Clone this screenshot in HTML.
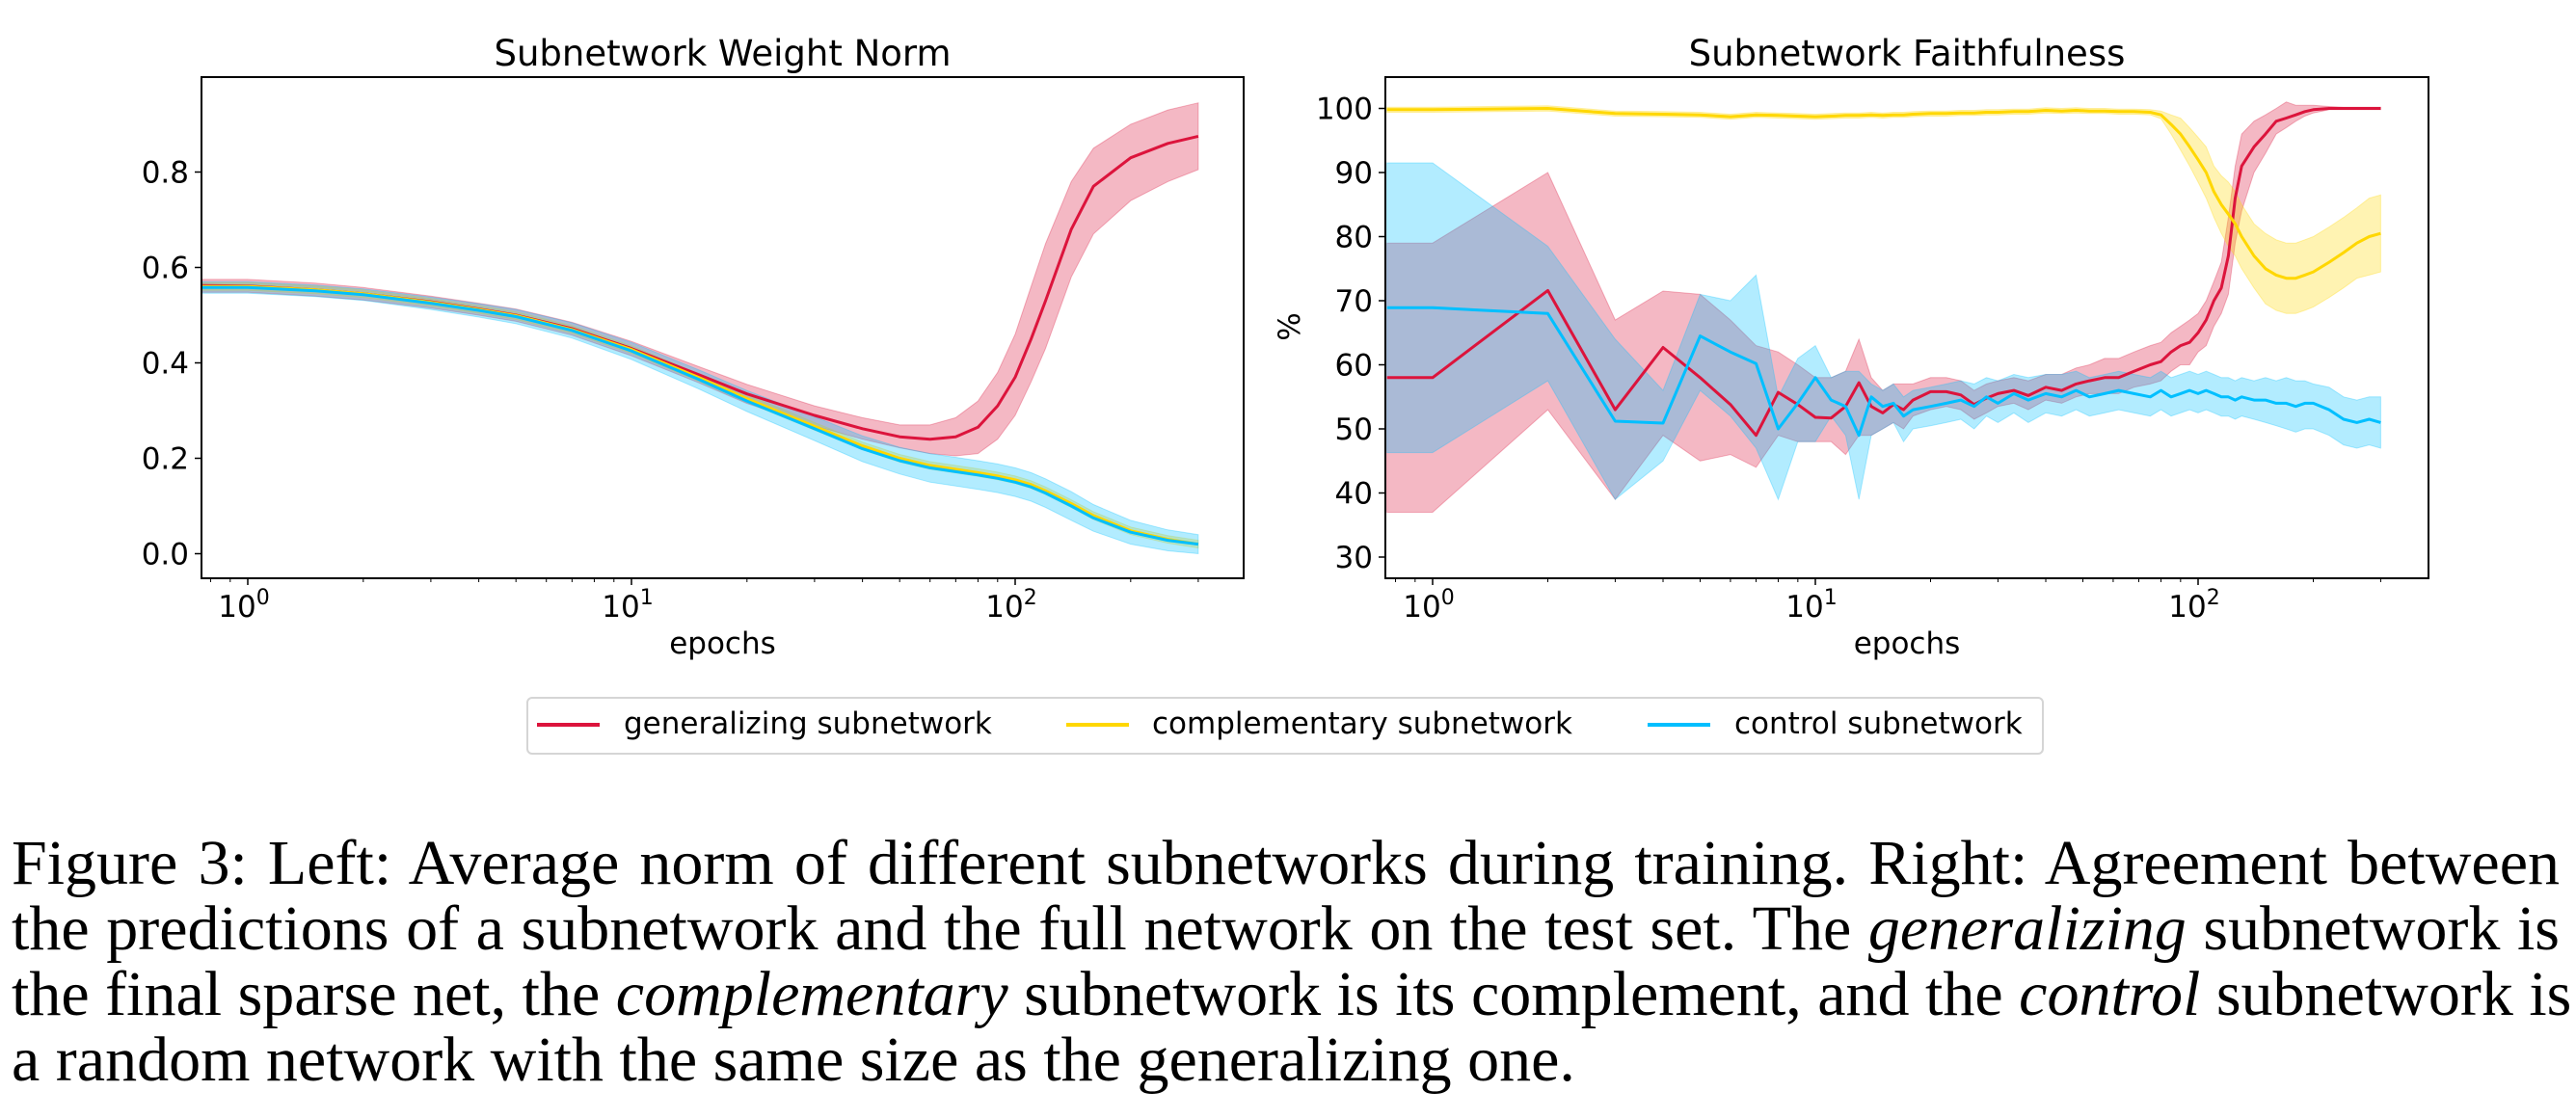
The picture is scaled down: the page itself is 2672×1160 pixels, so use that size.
<!DOCTYPE html>
<html><head><meta charset="utf-8"><style>
html,body{margin:0;padding:0;background:#fff;width:2672px;height:1160px;overflow:hidden}
svg{position:absolute;left:0;top:0}
.cap{position:absolute;left:12px;width:2643px;font-family:"Liberation Serif",serif;font-size:66px;line-height:68px;white-space:nowrap;color:#000}
.j{text-align:justify;text-align-last:justify}
</style></head><body>
<svg id="fig" width="2672" height="720" viewBox="0 0 2672 720" font-family="DejaVu Sans, Liberation Sans, sans-serif"></svg>
<div style="position:absolute;left:546px;top:723px;width:1570px;height:56px;border:2px solid #d5d5d5;border-radius:6px;font-family:'DejaVu Sans','Liberation Sans',sans-serif;font-size:31px;">
 <div><div style="position:absolute;left:9px;top:25px;width:65px;height:4px;background:#dc143c"></div><span style="position:absolute;left:99px;top:8px">generalizing subnetwork</span></div>
 <div><div style="position:absolute;left:558px;top:25px;width:65px;height:4px;background:#ffd700"></div><span style="position:absolute;left:647px;top:8px">complementary subnetwork</span></div>
 <div><div style="position:absolute;left:1161px;top:25px;width:65px;height:4px;background:#00bfff"></div><span style="position:absolute;left:1251px;top:8px">control subnetwork</span></div>
</div>
<div>
<div class="cap j" style="top:862px">Figure 3: Left: Average norm of different subnetworks during training. Right: Agreement between</div>
<div class="cap j" style="top:930px">the predictions of a subnetwork and the full network on the test set. The <i>generalizing</i> subnetwork is</div>
<div class="cap j" style="top:998px">the final sparse net, the <i>complementary</i> subnetwork is its complement, and the <i>control</i> subnetwork is</div>
<div class="cap" style="top:1066px">a random network with the same size as the generalizing one.</div>
</div>
<script>
// ---- Left chart data (Subnetwork Weight Norm) ----
const leftEpochs = [0.76,1,1.5,2,3,4,5,7,10,15,20,30,40,50,60,70,80,90,100,110,120,140,160,200,250,300];
const leftRedMean = [0.562,0.561,0.553,0.545,0.528,0.513,0.5,0.472,0.43,0.375,0.335,0.29,0.262,0.245,0.24,0.245,0.265,0.31,0.37,0.45,0.53,0.68,0.77,0.83,0.86,0.875];
const leftRedUpper = [0.575,0.575,0.567,0.558,0.54,0.525,0.513,0.485,0.445,0.392,0.355,0.31,0.285,0.27,0.27,0.285,0.32,0.38,0.46,0.56,0.65,0.78,0.85,0.9,0.93,0.945];
const leftRedLower = [0.548,0.548,0.54,0.532,0.515,0.5,0.487,0.458,0.415,0.358,0.315,0.268,0.24,0.222,0.21,0.205,0.21,0.24,0.29,0.36,0.43,0.58,0.67,0.74,0.78,0.805];
const leftYellowMean = [0.56,0.56,0.553,0.545,0.527,0.512,0.499,0.47,0.428,0.369,0.325,0.267,0.226,0.2,0.185,0.177,0.17,0.163,0.155,0.145,0.132,0.105,0.08,0.048,0.03,0.02];
const leftYellowSpread = [0.008,0.008,0.008,0.008,0.008,0.008,0.008,0.008,0.008,0.008,0.008,0.008,0.008,0.008,0.008,0.008,0.008,0.008,0.008,0.008,0.008,0.008,0.008,0.008,0.008,0.008];
const leftBlueMean = [0.558,0.558,0.551,0.543,0.525,0.51,0.497,0.468,0.425,0.365,0.32,0.262,0.22,0.195,0.18,0.172,0.165,0.158,0.15,0.14,0.127,0.1,0.075,0.045,0.028,0.02];
const leftBlueSpread = [0.012,0.012,0.012,0.012,0.013,0.014,0.015,0.016,0.018,0.02,0.022,0.025,0.027,0.028,0.03,0.03,0.03,0.03,0.03,0.03,0.03,0.03,0.028,0.025,0.022,0.02];
const leftYTicks = [0.0,0.2,0.4,0.6,0.8];
const leftYTickLabels = ["0.0","0.2","0.4","0.6","0.8"];
// ---- Right chart data (Subnetwork Faithfulness) ----
const rightEpochs = [0.76,1,2,3,4,5,6,7,8,9,10,11,12,13,14,15,16,17,18,20,22,24,26,28,30,33,36,40,44,48,52,57,62,68,75,80,85,90,95,100,105,110,115,120,125,130,140,150,160,170,180,190,200,220,240,260,280,300];
const rightRedMean = [58,58,71.6,53,62.7,58,53.8,49,55.7,53.8,51.8,51.7,53.5,57.2,53.5,52.5,53.8,53,54.5,55.8,55.8,55.3,53.8,54.8,55.5,56,55.2,56.5,56,57,57.5,58,58,59,60,60.5,62,63,63.5,65,67,70,72,77,86,91,94,96,98,98.5,99,99.5,99.8,100,100,100,100,100];
const rightRedUpper = [79,79,90,67,71.5,71,67,63,62,60,58,58,59,64,58,56,57,57,57,58,58,57.5,56,57,57.5,58,57.5,58.5,58.5,59.5,60,61,61,62,63,63.5,65,66,67,68,70,73,76,83,91,96,98,99,100,101,100.5,100.5,100.5,100.3,100.2,100.2,100.2,100.2];
const rightRedLower = [37,37,53,39,49,45,46,44,49,48,48,48,46,49,49,50,51,50,52,53,53.5,53,51.5,52.5,53.5,54,53,54.5,54,55,55.5,55.5,55.5,56.5,57,57.5,59,60,60,62,63,66,68,71,79,84,90,93,96,97,98,98.8,99.3,99.8,99.8,99.8,99.8,99.8];
const rightBlueMean = [68.9,68.9,68,51.2,50.9,64.5,62,60.2,50,54,58,54.5,53.5,49,55,53.5,54,52,53,53.5,54,54.5,53.5,55,54,55.5,54.5,55.5,55,56,55,55.5,56,55.5,55,56,55,55.5,56,55.5,56,55.5,55,55,54.5,55,54.5,54.5,54,54,53.5,54,54,53,51.5,51,51.5,51];
const rightBlueUpper = [91.5,91.5,78.5,64,56,71,70,74,55,61,63,58,59,59,57,56,57,55,56,56.5,57,57.5,57,58,57.5,58.5,58,58.5,58.5,59,58,58.5,59,58.5,58,59,58,58.5,59,58.5,59,58.5,58,58,57.5,58,57.5,58,57.5,58,57.5,57.5,57,56.5,55,54.5,55,55];
const rightBlueLower = [46.3,46.3,57.5,39,45,56,52,47,39,48,48,52,49,39,49,50,51,48,50,50.5,51,51.5,50,52,51,52.5,51,52.5,52,53,52,52.5,53,52.5,52,53,52,52.5,53,52.5,53,52.5,52,52,51.5,52,51.5,51,50.5,50,49.5,50,50,49,47.5,47,47.5,47];
const rightYellowMean = [99.8,99.8,100,99.2,99.1,99,98.7,99,98.9,98.8,98.7,98.8,98.9,98.9,99,98.9,99,99,99.1,99.2,99.2,99.3,99.3,99.4,99.4,99.5,99.5,99.7,99.6,99.7,99.6,99.6,99.5,99.5,99.4,99,97.5,96,94,92,90,87,85,83.5,82,80,77,75,74,73.5,73.5,74,74.5,76,77.5,79,80,80.5];
const rightYellowSpread = [0.4,0.4,0.4,0.4,0.4,0.4,0.4,0.4,0.4,0.4,0.4,0.4,0.4,0.4,0.4,0.4,0.4,0.4,0.4,0.4,0.4,0.4,0.4,0.4,0.4,0.4,0.4,0.4,0.4,0.4,0.4,0.4,0.4,0.4,0.4,0.6,1.5,2.5,3,3.5,4,4,4.5,5,5,5,5,5.5,5.5,5.5,5.5,5.5,5.5,5.5,5.5,5.5,6,6];
const rightYTicks = [30,40,50,60,70,80,90,100];
const rightYTickLabels = ["30","40","50","60","70","80","90","100"];
const xDecades = [0,1,2];

const NS='http://www.w3.org/2000/svg';
const svg=document.getElementById('fig');
function mk(tag,attrs,parent){const e=document.createElementNS(NS,tag);for(const k in attrs)e.setAttribute(k,attrs[k]);(parent||svg).appendChild(e);return e;}
const RED='#dc143c',YEL='#ffd700',BLU='#00bfff';

function chart(cfg){
  const g=mk('g',{});
  
  
  const x=e=>cfg.x0+Math.log10(e)*cfg.dec;
  const y=cfg.y;
  // bands
  cfg.series.forEach(s=>{
    let d='M'+s.ep.map((e,i)=>x(e).toFixed(1)+','+y(s.up[i]).toFixed(1)).join('L');
    for(let i=s.ep.length-1;i>=0;i--)d+='L'+x(s.ep[i]).toFixed(1)+','+y(s.lo[i]).toFixed(1);
    const p=mk('path',{d:d+'Z',fill:s.c,'fill-opacity':0.3,stroke:s.c,'stroke-opacity':0.3,'stroke-width':1},g);
    
    
  });
  cfg.series.forEach(s=>{
    const p=mk('polyline',{points:s.ep.map((e,i)=>x(e).toFixed(1)+','+y(s.m[i]).toFixed(1)).join(' '),fill:'none',stroke:s.c,'stroke-width':3,'stroke-linejoin':'round'},g);
    
    
  });
  const fr=mk('rect',{x:cfg.L,y:80,width:cfg.R-cfg.L,height:520,fill:'none',stroke:'#000','stroke-width':2},g);
  
  
  // y ticks
  cfg.yt.forEach((v,i)=>{
    mk('line',{x1:cfg.L-7,x2:cfg.L,y1:y(v),y2:y(v),stroke:'#000','stroke-width':1.5},g);
    const t=mk('text',{x:cfg.L-13,y:y(v)+11,'text-anchor':'end','font-size':31},g);
    t.textContent=cfg.yl[i];
    
    
  });
  // x ticks
  for(let d=-1;d<=2;d++)for(let m=1;m<10;m++){
    const e=m*Math.pow(10,d);const px=x(e);
    if(px<cfg.L||px>cfg.R)continue;
    mk('line',{x1:px,x2:px,y1:600,y2:m===1?607:604,stroke:'#000','stroke-width':m===1?1.5:1},g);
  }
  xDecades.forEach(d=>{
    const t=mk('text',{x:x(Math.pow(10,d))-4,y:640,'text-anchor':'middle','font-size':31},g);
    t.innerHTML='10<tspan dy="-13" font-size="22">'+d+'</tspan>';
    
    
  });
  const xl=mk('text',{x:(cfg.L+cfg.R)/2,y:678,'text-anchor':'middle','font-size':31},g);
  xl.textContent='epochs';
  
  
  const tt=mk('text',{x:(cfg.L+cfg.R)/2,y:68,'text-anchor':'middle','font-size':37},g);
  tt.textContent=cfg.title;
  
  
  return g;
}
const band=(m,s,sign)=>m.map((v,i)=>v+sign*s[i]);
chart({name:'weight-norm-chart',title:'Subnetwork Weight Norm',L:209,R:1290,x0:257,dec:398,y:v=>574.5-v*495,
  yt:leftYTicks,yl:leftYTickLabels,
  series:[
   {n:'generalizing',c:RED,ep:leftEpochs,m:leftRedMean,up:leftRedUpper,lo:leftRedLower},
   {n:'complementary',c:YEL,ep:leftEpochs,m:leftYellowMean,up:band(leftYellowMean,leftYellowSpread,1),lo:band(leftYellowMean,leftYellowSpread,-1)},
   {n:'control',c:BLU,ep:leftEpochs,m:leftBlueMean,up:band(leftBlueMean,leftBlueSpread,1),lo:band(leftBlueMean,leftBlueSpread,-1)}
  ]});
chart({name:'faithfulness-chart',title:'Subnetwork Faithfulness',L:1437,R:2519,x0:1486,dec:397,y:v=>112.5+(100-v)*6.65,
  yt:rightYTicks,yl:rightYTickLabels,
  series:[
   {n:'generalizing',c:RED,ep:rightEpochs,m:rightRedMean,up:rightRedUpper,lo:rightRedLower},
   {n:'complementary',c:YEL,ep:rightEpochs,m:rightYellowMean,up:band(rightYellowMean,rightYellowSpread,1),lo:band(rightYellowMean,rightYellowSpread,-1)},
   {n:'control',c:BLU,ep:rightEpochs,m:rightBlueMean,up:rightBlueUpper,lo:rightBlueLower}
  ]});
const yl=mk('text',{x:1348,y:339,'text-anchor':'middle','font-size':31,transform:'rotate(-90 1348 339)'});
yl.textContent='%';


</script>
</body></html>
